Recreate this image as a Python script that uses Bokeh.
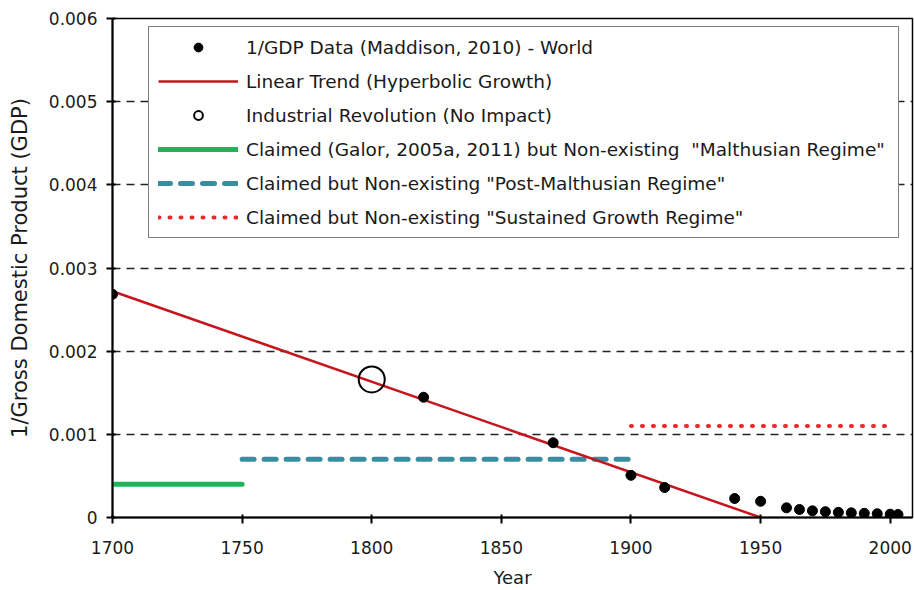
from bokeh.plotting import figure
from bokeh.models import (FixedTicker, CustomJSTickFormatter, Legend, LegendItem, Range1d)
from bokeh.embed import file_html
from bokeh.resources import INLINE

# ---- data ----
data_years = [1700, 1820, 1870, 1900, 1913, 1940, 1950, 1960, 1965, 1970, 1975,
              1980, 1985, 1990, 1995, 2000, 2003]
data_inv_gdp = [0.002684, 0.001446, 0.000899, 0.000507, 0.000360, 0.000228, 0.000195,
                0.000116, 0.000096, 0.000080, 0.000070, 0.000062, 0.000056, 0.000050,
                0.000045, 0.000040, 0.000036]

ir_year = [1800]
ir_value = [0.00166]

trend_years = [1700, 1950]
trend_values = [0.00272, 0.0]

malthus_years = [1700, 1750]
malthus_values = [0.0004, 0.0004]
post_malthus_years = [1750, 1900]
post_malthus_values = [0.0007, 0.0007]
sustained_years = [1900, 2000]
sustained_values = [0.0011, 0.0011]

x_ticks = [1700, 1750, 1800, 1850, 1900, 1950, 2000]
y_ticks = [0, 0.001, 0.002, 0.003, 0.004, 0.005, 0.006]
grid_ticks = [0.001, 0.002, 0.003, 0.004, 0.005]

labels = [
    "1/GDP Data (Maddison, 2010) - World",
    "Linear Trend (Hyperbolic Growth)",
    "Industrial Revolution (No Impact)",
    'Claimed (Galor, 2005a, 2011) but Non-existing  "Malthusian Regime"',
    'Claimed but Non-existing "Post-Malthusian Regime"',
    'Claimed but Non-existing "Sustained Growth Regime"',
]

FONT = "DejaVu Sans"
TXT = "#1a1a1a"

p = figure(width=914, height=590, output_backend="svg", toolbar_location=None,
           x_range=Range1d(1700, 2008.6), y_range=Range1d(0, 0.006),
           min_border_left=112, min_border_right=2, min_border_top=18,
           min_border_bottom=71, background_fill_color="white",
           border_fill_color="white")

p.outline_line_color = "black"
p.outline_line_width = 1.5

# regime lines
r_mal = p.line(malthus_years, malthus_values, line_color="#20b45a", line_width=5,
               line_cap="round")
r_post = p.line(post_malthus_years, post_malthus_values, line_color="#3a8ca0",
                line_width=5, line_dash="12 10", line_cap="round")
r_sus = p.line(sustained_years, sustained_values, line_color="#e82a2a", line_width=4,
               line_dash="1 10", line_cap="round")
# trend
r_trend = p.line(trend_years, trend_values, line_color="#c4161c", line_width=2.5)
# data
r_data = p.scatter(data_years, data_inv_gdp, size=10, color="black")
r_ir = p.scatter(ir_year, ir_value, size=26, fill_color=None, line_color="black",
                 line_width=2)

# axes
p.xaxis.ticker = FixedTicker(ticks=x_ticks)
p.yaxis.ticker = FixedTicker(ticks=y_ticks)
p.yaxis.formatter = CustomJSTickFormatter(code="return tick == 0 ? '0' : tick.toFixed(3);")
p.xaxis.axis_label = "Year"
p.yaxis.axis_label = "1/Gross Domestic Product (GDP)"
for ax in (p.xaxis[0], p.yaxis[0]):
    ax.axis_line_width = 2
    ax.axis_line_color = "black"
    ax.major_tick_line_width = 2
    ax.major_tick_line_color = "black"
    ax.major_tick_in = 3
    ax.major_tick_out = 6
    ax.minor_tick_line_color = None
    ax.major_label_text_font = FONT
    ax.major_label_text_font_size = "17px"
    ax.major_label_text_color = TXT
    ax.axis_label_text_font = FONT
    ax.axis_label_text_font_size = "18px"
    ax.axis_label_text_font_style = "normal"
    ax.axis_label_text_color = TXT
p.yaxis.axis_label_text_font_size = "21px"
p.xaxis.major_label_standoff = 17
p.xaxis.axis_label_standoff = 10
p.yaxis.major_label_standoff = 9
p.yaxis.axis_label_standoff = 14

# grid
p.xgrid.visible = False
p.ygrid.ticker = FixedTicker(ticks=grid_ticks)
p.ygrid.grid_line_color = "#222222"
p.ygrid.grid_line_width = 1.5
p.ygrid.grid_line_dash = "8 6"

legend = Legend(
    items=[LegendItem(label=labels[0], renderers=[r_data]),
           LegendItem(label=labels[1], renderers=[r_trend]),
           LegendItem(label=labels[2], renderers=[r_ir]),
           LegendItem(label=labels[3], renderers=[r_mal]),
           LegendItem(label=labels[4], renderers=[r_post]),
           LegendItem(label=labels[5], renderers=[r_sus])],
    location=(36, 279), glyph_width=80, glyph_height=22, label_height=22,
    label_width=643, spacing=12, padding=9, label_standoff=8,
    label_text_font=FONT, label_text_font_size="18.5px", label_text_color=TXT,
    border_line_color="black", border_line_width=1.5,
    background_fill_color="white", background_fill_alpha=1.0)
p.add_layout(legend)

open("out.html", "w").write(file_html(p, INLINE))
